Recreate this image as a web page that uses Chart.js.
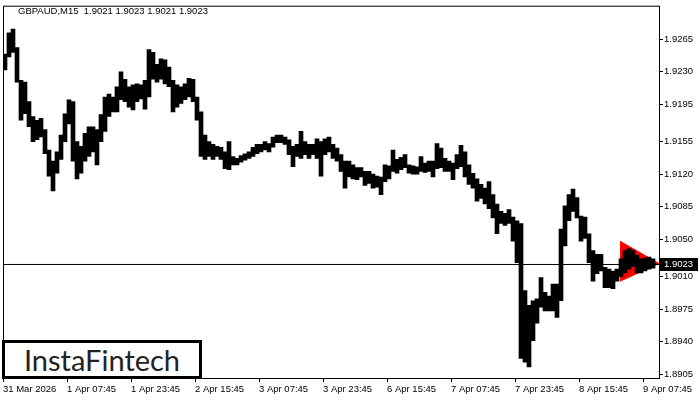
<!DOCTYPE html>
<html>
<head>
    <title>GBPAUD M15</title>
    <script src="https://cdn.jsdelivr.net/npm/chart.js"></script>
    <style>
        body { margin: 0; background: #fff; }
        #wrap { position: relative; width: 700px; height: 400px; }
        #title { position: absolute; left: 18px; top: 5px; font: 9.5px "Liberation Sans", Arial, sans-serif; color: #000; white-space: pre; }
        #logo {
            position: absolute; left: 2px; top: 340px;
            width: 194px; height: 33px;
            border: 3px solid #000; background: #fff;
            font: 29px Lato, sans-serif; color: #222;
            text-align: center; line-height: 33px;
        }
    </style>
</head>
<body>
<div id="wrap">
    <canvas id="chart" width="700" height="400"></canvas>
    <div id="title">GBPAUD,M15  1.9021 1.9023 1.9021 1.9023</div>
    <div id="logo">InstaFintech</div>
</div>
<script>
    // time axis labels, one every 16 hours (64 M15 bars)
    const xTickLabels = ['31 Mar 2026', '1 Apr 07:45', '1 Apr 23:45', '2 Apr 15:45', '3 Apr 07:45',
        '3 Apr 23:45', '6 Apr 15:45', '7 Apr 07:45', '7 Apr 23:45', '8 Apr 15:45', '9 Apr 07:45'];
    const yTickValues = [1.9265, 1.9230, 1.9195, 1.9155, 1.9120, 1.9085, 1.9050, 1.9010, 1.8975, 1.8940, 1.8905];

    // high / low of each group of 4 M15 bars
    const highs = [
        1.9249, 1.9272, 1.9276, 1.9256, 1.9221, 1.9219, 1.9198, 1.9182, 1.9178, 1.9180,
        1.9168, 1.9146, 1.9134, 1.9144, 1.9162, 1.9185, 1.9200, 1.9198, 1.9155, 1.9150,
        1.9164, 1.9171, 1.9171, 1.9168, 1.9184, 1.9203, 1.9206, 1.9203, 1.9214, 1.9230,
        1.9222, 1.9214, 1.9216, 1.9217, 1.9216, 1.9221, 1.9254, 1.9251, 1.9238, 1.9244,
        1.9243, 1.9235, 1.9221, 1.9216, 1.9214, 1.9217, 1.9223, 1.9222, 1.9203, 1.9187,
        1.9162, 1.9155, 1.9152, 1.9150, 1.9149, 1.9144, 1.9155, 1.9139, 1.9137, 1.9140,
        1.9142, 1.9144, 1.9149, 1.9152, 1.9152, 1.9155, 1.9153, 1.9160, 1.9162, 1.9162,
        1.9160, 1.9157, 1.9150, 1.9152, 1.9166, 1.9155, 1.9152, 1.9152, 1.9158, 1.9155,
        1.9158, 1.9160, 1.9152, 1.9148, 1.9141, 1.9134, 1.9134, 1.9130, 1.9127, 1.9127,
        1.9123, 1.9123, 1.9120, 1.9118, 1.9117, 1.9130, 1.9129, 1.9146, 1.9136, 1.9138,
        1.9141, 1.9130, 1.9129, 1.9128, 1.9139, 1.9132, 1.9134, 1.9134, 1.9153, 1.9148,
        1.9137, 1.9134, 1.9132, 1.9141, 1.9151, 1.9144, 1.9130, 1.9121, 1.9115, 1.9109,
        1.9105, 1.9112, 1.9098, 1.9088, 1.9080, 1.9078, 1.9082, 1.9074, 1.9070, 1.9067,
        1.8995, 1.8979, 1.8984, 1.8986, 1.9009, 1.8993, 1.8989, 1.9002, 1.9002, 1.9061,
        1.9086, 1.9098, 1.9104, 1.9095, 1.9075, 1.9074, 1.9056, 1.9038, 1.9034, 1.9034,
        1.9020, 1.9018, 1.9016, 1.9018, 1.9029, 1.9038, 1.9040, 1.9038, 1.9033, 1.9029,
        1.9030, 1.9031, 1.9029
    ];
    const lows = [
        1.9232, 1.9246, 1.9251, 1.9219, 1.9178, 1.9185, 1.9171, 1.9155, 1.9157, 1.9160,
        1.9142, 1.9118, 1.9102, 1.9121, 1.9136, 1.9155, 1.9174, 1.9134, 1.9115, 1.9121,
        1.9134, 1.9139, 1.9144, 1.9130, 1.9155, 1.9166, 1.9182, 1.9187, 1.9187, 1.9200,
        1.9198, 1.9192, 1.9189, 1.9198, 1.9201, 1.9190, 1.9203, 1.9222, 1.9219, 1.9222,
        1.9217, 1.9214, 1.9187, 1.9192, 1.9196, 1.9200, 1.9203, 1.9198, 1.9178, 1.9139,
        1.9136, 1.9139, 1.9136, 1.9139, 1.9136, 1.9126, 1.9125, 1.9130, 1.9130, 1.9133,
        1.9135, 1.9137, 1.9139, 1.9142, 1.9144, 1.9146, 1.9144, 1.9149, 1.9154, 1.9154,
        1.9152, 1.9141, 1.9128, 1.9139, 1.9137, 1.9141, 1.9137, 1.9141, 1.9137, 1.9118,
        1.9141, 1.9144, 1.9137, 1.9134, 1.9123, 1.9105, 1.9117, 1.9115, 1.9114, 1.9117,
        1.9108, 1.9110, 1.9105, 1.9106, 1.9098, 1.9112, 1.9115, 1.9123, 1.9121, 1.9125,
        1.9127, 1.9121, 1.9120, 1.9120, 1.9123, 1.9122, 1.9123, 1.9117, 1.9126, 1.9127,
        1.9123, 1.9123, 1.9114, 1.9126, 1.9128, 1.9117, 1.9109, 1.9105, 1.9091, 1.9094,
        1.9088, 1.9083, 1.9073, 1.9056, 1.9067, 1.9065, 1.9067, 1.9048, 1.9025, 1.8922,
        1.8918, 1.8913, 1.8941, 1.8960, 1.8977, 1.8973, 1.8973, 1.8973, 1.8966, 1.8984,
        1.9043, 1.9070, 1.9080, 1.9073, 1.9048, 1.9051, 1.9025, 1.9005, 1.9013, 1.9016,
        1.8998, 1.8998, 1.8997, 1.9005, 1.9010, 1.9014, 1.9018, 1.9021, 1.9014, 1.9014,
        1.9016, 1.9018, 1.9019
    ];

    const closePrice = 1.9023;
    // symmetric triangle pattern (bar index, price)
    const triangleX = [617, 656];
    const triangleTop = [1.9048, 1.9024];
    const triangleBottom = [1.9005, 1.9024];

    const SAMPLE_BARS = 4;   // M15 bars per sample
    const LABEL_BARS = 64;   // M15 bars between axis labels
    const TOTAL_BARS = 656;

    const candles = highs.map((h, i) => ({ x: i * SAMPLE_BARS + SAMPLE_BARS / 2, y: [lows[i], h] }));

    const axisFont = { family: '"Liberation Sans", Arial, sans-serif', size: 9.5 };

    const framePlugin = {
        id: 'frame',
        afterDraw(chart) {
            const { ctx, chartArea: a, scales } = chart;
            ctx.save();
            ctx.strokeStyle = '#000';
            ctx.lineWidth = 1;
            ctx.strokeRect(a.left + 0.5, a.top - 0.5, a.right - a.left, a.bottom - a.top + 1);
            // current price tag on the right axis
            const y = Math.round(scales.y.getPixelForValue(closePrice));
            ctx.fillStyle = '#000';
            ctx.fillRect(a.right + 1, y - 6, 38, 13);
            ctx.fillStyle = '#fff';
            ctx.font = '9.5px "Liberation Sans", Arial, sans-serif';
            ctx.textBaseline = 'middle';
            ctx.fillText(closePrice.toFixed(4), a.right + 5, y + 0.5);
            ctx.restore();
        }
    };

    new Chart(document.getElementById('chart'), {
        type: 'bar',
        data: {
            datasets: [
                {
                    type: 'line',
                    data: [{ x: 0, y: closePrice }, { x: TOTAL_BARS, y: closePrice }],
                    borderColor: '#000', borderWidth: 1, pointRadius: 0, order: 0
                },
                {
                    type: 'bar',
                    data: candles,
                    backgroundColor: '#000', borderWidth: 0, barThickness: 4, order: 1
                },
                {
                    type: 'line',
                    data: triangleX.map((x, i) => ({ x, y: triangleTop[i] })),
                    borderColor: '#ff0000', backgroundColor: '#ff0000', borderWidth: 1,
                    pointRadius: 0, fill: '+1', order: 2
                },
                {
                    type: 'line',
                    data: triangleX.map((x, i) => ({ x, y: triangleBottom[i] })),
                    borderColor: '#ff0000', borderWidth: 1, pointRadius: 0, fill: false, order: 3
                }
            ]
        },
        options: {
            responsive: false,
            animation: false,
            layout: { padding: { left: 3, top: 4, right: 0, bottom: 0 } },
            plugins: { legend: { display: false }, tooltip: { enabled: false } },
            scales: {
                x: {
                    type: 'linear', min: 0, max: TOTAL_BARS, offset: false,
                    grid: { offset: false, drawOnChartArea: false, tickLength: 4, color: '#000' },
                    border: { display: false },
                    afterBuildTicks: axis => { axis.ticks = xTickLabels.map((_, k) => ({ value: k * LABEL_BARS })); },
                    afterFit: axis => { axis.height = 22; },
                    ticks: {
                        autoSkip: false, maxRotation: 0, minRotation: 0, align: 'start', padding: 2,
                        color: '#000', font: axisFont,
                        callback: v => xTickLabels[Math.round(v / LABEL_BARS)]
                    }
                },
                y: {
                    position: 'right', min: 1.8901, max: 1.9300,
                    grid: { drawOnChartArea: false, tickLength: 4, color: '#000' },
                    border: { display: false },
                    afterBuildTicks: axis => { axis.ticks = yTickValues.map(v => ({ value: v })); },
                    afterFit: axis => { axis.width = 41; },
                    ticks: { padding: 1, color: '#000', font: axisFont, callback: v => v.toFixed(4) }
                }
            }
        },
        plugins: [framePlugin]
    });
</script>
</body>
</html>
